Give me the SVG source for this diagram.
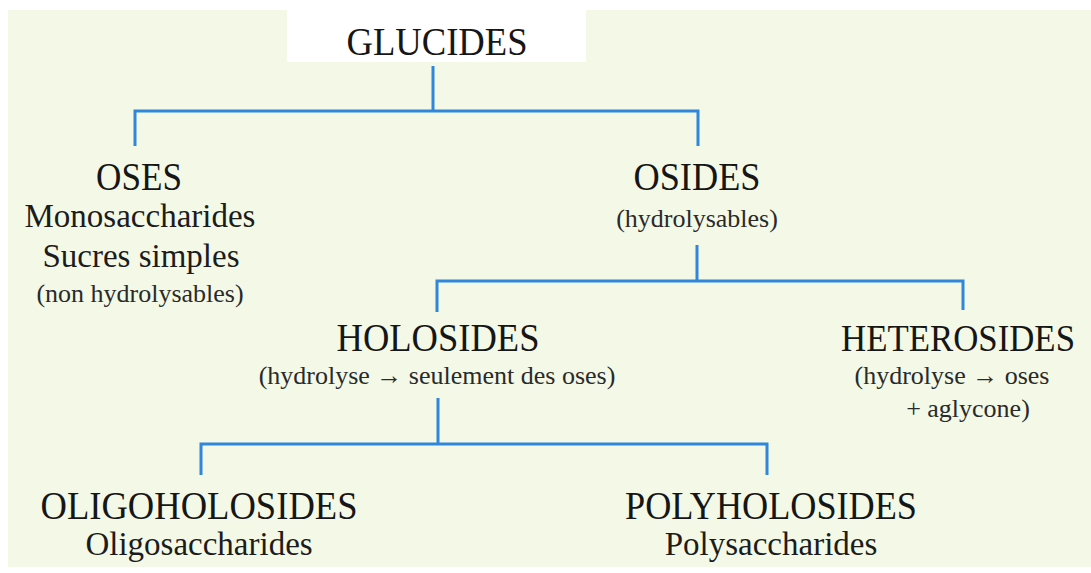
<svg xmlns="http://www.w3.org/2000/svg" width="1091" height="573" viewBox="0 0 1091 573">
  <style>
    .h { font-family: "Liberation Serif", "Times New Roman", serif; font-size: 40px; fill: #161616; text-anchor: middle; }
    .s { font-family: "Liberation Serif", "Times New Roman", serif; font-size: 33px; fill: #1c1c1c; text-anchor: middle; }
    .p { font-family: "Liberation Serif", "Times New Roman", serif; font-size: 26px; fill: #2a2a2a; text-anchor: middle; }
    .c { fill: none; stroke: #2F86DA; stroke-width: 3; stroke-linecap: butt; stroke-linejoin: miter; }
  </style>
  <rect x="0" y="0" width="1091" height="573" fill="#ffffff"/>
  <rect x="8" y="10" width="1083" height="557" fill="#F3F9E6"/>

  <g id="connectors">
    <path class="c" d="M433,66 V111 M135,146 V111 H698 V146"/>
    <path class="c" d="M697,245 V281 M437,312 V281 H963 V310"/>
    <path class="c" d="M438,398 V444 M201,475 V444 H767 V475"/>
  </g>

  <g id="glucides">
    <rect x="287" y="10" width="299" height="52" fill="#ffffff"/>
    <text class="h" x="437" y="55" textLength="181" lengthAdjust="spacingAndGlyphs">GLUCIDES</text>
  </g>

  <g id="oses">
    <text class="h" x="139" y="190" textLength="86" lengthAdjust="spacingAndGlyphs">OSES</text>
    <text class="s" x="140" y="227">Monosaccharides</text>
    <text class="s" x="141" y="267">Sucres simples</text>
    <text class="p" x="140" y="302">(non hydrolysables)</text>
  </g>

  <g id="osides">
    <text class="h" x="697" y="190" textLength="127" lengthAdjust="spacingAndGlyphs">OSIDES</text>
    <text class="p" x="697" y="227">(hydrolysables)</text>
  </g>

  <g id="holosides">
    <text class="h" x="438" y="351" textLength="203" lengthAdjust="spacingAndGlyphs">HOLOSIDES</text>
    <text class="p" x="437" y="384">(hydrolyse → seulement des oses)</text>
  </g>

  <g id="heterosides">
    <text class="h" x="958" y="351" font-size="37" style="font-size:37px" textLength="234" lengthAdjust="spacingAndGlyphs">HETEROSIDES</text>
    <text class="p" x="952" y="384">(hydrolyse → oses</text>
    <text class="p" x="968" y="417">+ aglycone)</text>
  </g>

  <g id="oligoholosides">
    <text class="h" x="199" y="519" textLength="317" lengthAdjust="spacingAndGlyphs">OLIGOHOLOSIDES</text>
    <text class="s" x="199" y="555">Oligosaccharides</text>
  </g>

  <g id="polyholosides">
    <text class="h" x="771" y="519" textLength="292" lengthAdjust="spacingAndGlyphs">POLYHOLOSIDES</text>
    <text class="s" x="771" y="555">Polysaccharides</text>
  </g>
</svg>
